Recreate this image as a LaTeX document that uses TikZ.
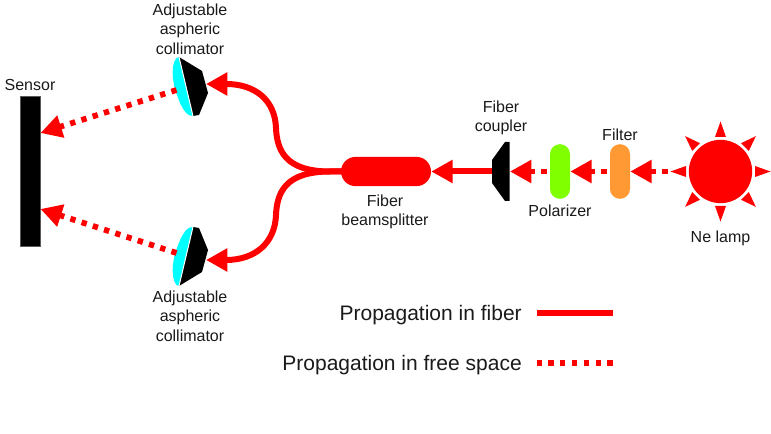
\documentclass[tikz,border=0pt]{standalone}
\usepackage{fontspec}
\setmainfont{Liberation Sans}
\usetikzlibrary{arrows.meta, shapes.misc, calc}

\definecolor{lenscyan}{HTML}{00FFFF}
\definecolor{polgreen}{HTML}{80FF00}
\definecolor{filterorange}{HTML}{FF9933}
\definecolor{labelgray}{HTML}{1A1A1A}

\tikzset{
    fiber/.style={draw=red, line width=4.5pt},
    freebeam/.style={draw=red, line width=4.3pt, dash pattern=on 4pt off 4.85pt},
    beamtip/.style={-{Triangle[length=16pt, width=16.5pt]}},
    optic/.style={rounded rectangle, minimum width=41pt, minimum height=15pt, inner sep=0pt, rotate=90},
    lbl/.style={font=\fontsize{12}{14.7}\selectfont, align=center, text=labelgray, inner sep=0pt},
    legendlbl/.style={font=\fontsize{15.75}{18}\selectfont, anchor=east, text=labelgray, inner sep=0pt},
}

\begin{document}
\begin{tikzpicture}[x=0.75pt, y=-0.75pt]
    \useasboundingbox (0,0) rectangle (771,434);

    % Sensor
    \node[draw=black!65, fill=black, line width=0.75pt, minimum width=15pt, minimum height=112.5pt, inner sep=0pt] (sensor) at (30.5,171.5) {};
    \node[lbl] (sensor label) at (30,85) {Sensor};
    \coordinate (sensor up) at (40.5,133);
    \coordinate (sensor down) at (40.5,209);

    % Collimators
    \fill[lenscyan] (179,57) .. controls (171,58) and (171,80) .. (177,95) .. controls (182,110) and (188,117) .. (193,116) -- cycle;
    \fill[black] (179,57) -- (202,71) -- (208,93) -- (199,115) -- (193,116) -- cycle;
    \draw[white, line width=0.75pt] (179,57) -- (193,116);
    \fill[lenscyan] (179,286) .. controls (171,285) and (171,263) .. (177,248) .. controls (182,233) and (188,226) .. (193,227) -- cycle;
    \fill[black] (179,286) -- (202,272) -- (208,250) -- (199,228) -- (193,227) -- cycle;
    \draw[white, line width=0.75pt] (179,286) -- (193,227);
    \coordinate (col up in) at (206,84);
    \coordinate (col down in) at (206,260);
    \coordinate (col up out) at (176.5,90);
    \coordinate (col down out) at (176.5,253);
    \node[lbl] (col up label) at (190,29) {Adjustable\\aspheric\\collimator};
    \node[lbl] (col down label) at (190,316) {Adjustable\\aspheric\\collimator};

    % Beamsplitter, polarizer, filter
    \node[rounded rectangle, fill=red, minimum width=67.5pt, minimum height=22pt, inner sep=0pt] (splitter) at (386,171.5) {};
    \node[lbl] (splitter label) at (385,212) {Fiber\\beamsplitter};
    \node[optic, fill=polgreen] (polarizer) at (560,171.5) {};
    \node[lbl] (polarizer label) at (560,211) {Polarizer};
    \node[optic, fill=filterorange] (filter) at (620,171.5) {};
    \node[lbl] (filter label) at (620,135) {Filter};

    % Coupler
    \fill[black] (509.5,142) -- (505,142) -- (492,160) -- (492,183) -- (505,201) -- (509.5,201) -- cycle;
    \coordinate (coupler out) at (510,171.5);
    \coordinate (coupler in) at (492,171.5);
    \node[lbl] (coupler label) at (501,118) {Fiber\\coupler};

    % Lamp and its rays
    \node[circle, fill=red, minimum size=47.5pt, inner sep=0pt] (lamp) at (720.5,171.5) {};
    \foreach \a in {0,45,...,315}
        \fill[red] ($(lamp.center)+(\a:34.5)+(\a+90:5.5)$) -- ($(lamp.center)+(\a:34.5)+(\a-90:5.5)$) -- ($(lamp.center)+(\a:50)$) -- cycle;
    \coordinate (lamp out) at (667.5,171.5);
    \node[lbl] (lamp label) at (720.5,238) {Ne lamp};

    % Free space beams
    \draw[freebeam, beamtip] (lamp out) -- (filter.south);
    \draw[freebeam, beamtip, shorten <=2.25pt] (filter.north) -- (polarizer.south);
    \draw[freebeam, beamtip, shorten <=2.25pt] (polarizer.north) -- (coupler out);
    \draw[freebeam, beamtip] (col up out) -- (sensor up);
    \draw[freebeam, beamtip] (col down out) -- (sensor down);

    % Fiber paths
    \draw[fiber, beamtip] (coupler in) -- (splitter.east);
    \draw[fiber, beamtip] (splitter.center) -- (330,171.5) .. controls (285,171.5) and (277,150) .. (276,128) .. controls (275,100) and (255,84) .. (col up in);
    \draw[fiber, beamtip] (splitter.center) -- (330,171.5) .. controls (285,171.5) and (277,193) .. (276,215) .. controls (275,243) and (255,260) .. (col down in);

    % Legend
    \node[legendlbl] (legend fiber) at (522,315.5) {Propagation in fiber};
    \node[legendlbl] (legend free) at (522,365.5) {Propagation in free space};
    \coordinate (legend fiber end) at (612.5,312.7);
    \coordinate (legend free end) at (612.5,362.7);
    \draw[fiber] (536.5,312.7) -- (legend fiber end);
    \draw[freebeam] (536.5,362.7) -- (legend free end);
\end{tikzpicture}
\end{document}
